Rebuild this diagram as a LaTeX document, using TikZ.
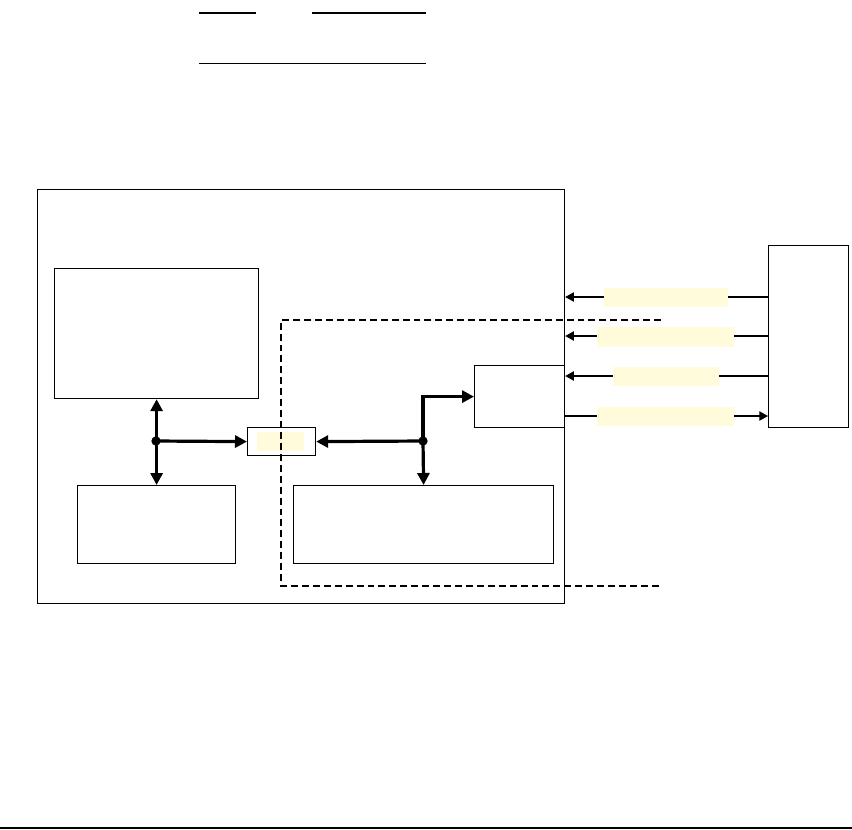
\documentclass[tikz,border=0pt]{standalone}
\usetikzlibrary{arrows.meta}
\definecolor{lblyellow}{HTML}{FFFBDB}
\tikzset{
  box/.style={draw=black, line width=0.9pt, fill=white, inner sep=0pt, anchor=north west},
  lbl/.style={fill=lblyellow, inner sep=0pt},
  sig/.style={line width=0.8pt, -{Triangle[length=6.5pt,width=7pt]}},
  bus/.style={line width=2.4pt, -{Triangle[length=9pt,width=9pt]}},
  busboth/.style={line width=2.4pt, {Triangle[length=9pt,width=9pt]}-{Triangle[length=9pt,width=9pt]}},
  dot/.style={circle, fill=black, inner sep=0pt, minimum size=7pt},
  border/.style={line width=1.4pt, dash pattern=on 5.2pt off 3pt},
}
\begin{document}
\begin{tikzpicture}[x=0.75pt, y=-0.75pt]
\useasboundingbox (0,0) rectangle (852,829);
% top lines and bottom rule
\draw[line width=1pt] (199,13) -- (256,13);
\draw[line width=1pt] (312,13) -- (426,13);
\draw[line width=1pt] (199,63.5) -- (426,63.5);
\draw[line width=1.1pt] (0,828) -- (852,828);
% boxes
\node[box, minimum width=395.25pt, minimum height=310.5pt] (outer) at (37,189) {};
\node[box, minimum width=153pt, minimum height=97.5pt] (A) at (54,268) {};
\node[box, minimum width=118.5pt, minimum height=58.5pt] (B) at (77,485) {};
\node[box, minimum width=195pt, minimum height=58.5pt] (C) at (293,485) {};
\node[box, minimum width=51pt, minimum height=21pt] (S) at (247,427) {};
\node[box, minimum width=67.5pt, minimum height=46.5pt] (D) at (474,365) {};
\node[box, minimum width=60pt, minimum height=136.5pt] (R) at (768,245) {};
\node[lbl, minimum width=35.25pt, minimum height=14.25pt] (SL) at (280.5,441.5) {};
% signal lines to right box
\coordinate (y1) at (0,297);
\coordinate (y2) at (0,336);
\coordinate (y3) at (0,376);
\coordinate (y4) at (0,416);
\draw[sig] (R.west |- y1) -- (outer.east |- y1);
\draw[sig] (R.west |- y2) -- (outer.east |- y2);
\draw[sig] (R.west |- y3) -- (outer.east |- y3);
\draw[sig] (outer.east |- y4) -- (R.west |- y4);
\node[lbl, minimum width=93pt, minimum height=14.25pt] (L1) at (666,297.5) {};
\node[lbl, minimum width=102.75pt, minimum height=15pt] (L2) at (665.5,337) {};
\node[lbl, minimum width=79.5pt, minimum height=14.25pt] (L3) at (666,376.5) {};
\node[lbl, minimum width=102.75pt, minimum height=14.25pt] (L4) at (665.5,416.5) {};
% buses
\node[dot] (j1) at (156,441) {};
\node[dot] (j2) at (423,441) {};
\draw[busboth] (A.south) -- (B.north);
\draw[bus] (j1.center) -- (S.west);
\draw[bus] (j2.center) -- (S.east);
\draw[bus] (j2.center) -- (C.north);
\draw[bus] (j2.center) |- (D.west);
% dashed boundary
\coordinate (d1) at (661,320);
\coordinate (d2) at (281,320);
\coordinate (d3) at (281,586);
\coordinate (d4) at (661,586);
\draw[border] (d1) -- (d2) -- (d3) -- (d4);
\end{tikzpicture}
\end{document}
